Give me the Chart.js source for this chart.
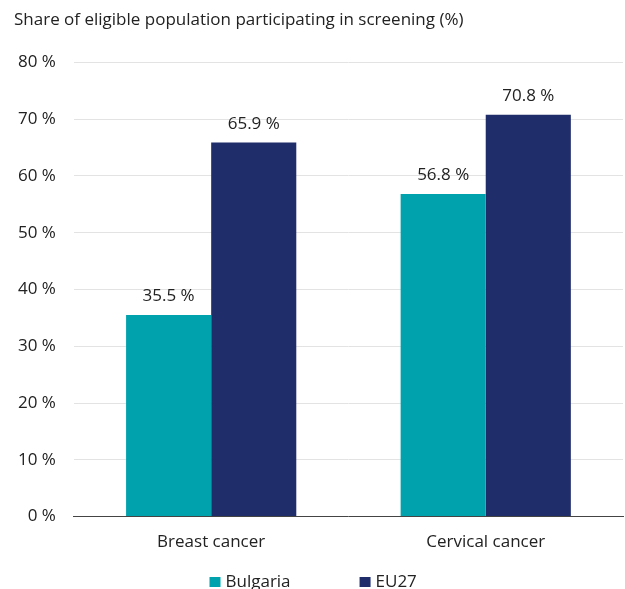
<!DOCTYPE html>
<html>
<head>
<meta charset="utf-8">
<script src="https://cdn.jsdelivr.net/npm/chart.js@4"></script>
<style>
  html, body { margin: 0; padding: 0; background: #fff; }
  #wrap { width: 625px; height: 589px; }
</style>
</head>
<body>
<div id="wrap"><canvas id="chart"></canvas></div>
<script>
const categories = ['Breast cancer', 'Cervical cancer'];
const bulgaria = [35.5, 56.8];
const eu27 = [65.9, 70.8];

const TEAL = 'rgb(0, 163, 173)';
const NAVY = 'rgb(31, 45, 106)';
const FONT = "'Open Sans', sans-serif";
const TEXT = '#222';

// writes "xx.x %" above every bar
const barValues = {
  id: 'barValues',
  afterDatasetsDraw(chart) {
    const ctx = chart.ctx;
    ctx.save();
    ctx.font = `17px ${FONT}`;
    ctx.fillStyle = TEXT;
    ctx.textAlign = 'center';
    ctx.textBaseline = 'bottom';
    chart.data.datasets.forEach((ds, i) => {
      chart.getDatasetMeta(i).data.forEach((bar, j) => {
        ctx.fillText(ds.data[j].toFixed(1) + ' %', bar.x, bar.y - 10);
      });
    });
    ctx.restore();
  }
};

// legend row along the bottom edge, drawn by hand so it can sit close to the axis
const bottomLegend = {
  id: 'bottomLegend',
  afterDraw(chart) {
    const ctx = chart.ctx;
    const baseline = chart.height - 2;
    let x = chart.width / 2 - 103;
    ctx.save();
    ctx.font = `17px ${FONT}`;
    ctx.textBaseline = 'alphabetic';
    ctx.textAlign = 'left';
    chart.data.datasets.forEach(ds => {
      ctx.fillStyle = ds.backgroundColor;
      ctx.fillRect(x, baseline - 10, 11, 10);
      ctx.fillStyle = TEXT;
      ctx.fillText(ds.label, x + 16, baseline);
      x += 16 + ctx.measureText(ds.label).width + 69;
    });
    ctx.restore();
  }
};

new Chart(document.getElementById('chart'), {
  type: 'bar',
  data: {
    labels: categories,
    datasets: [
      { label: 'Bulgaria', data: bulgaria, backgroundColor: TEAL },
      { label: 'EU27', data: eu27, backgroundColor: NAVY }
    ]
  },
  options: {
    responsive: true,
    maintainAspectRatio: false,
    animation: false,
    layout: { padding: { left: 14, right: 2, top: 4, bottom: 30 } },
    datasets: { bar: { categoryPercentage: 0.62, barPercentage: 1 } },
    scales: {
      x: {
        grid: { display: false },
        border: { color: '#444', width: 1 },
        ticks: { color: TEXT, font: { family: FONT, size: 17 }, padding: 7 }
      },
      y: {
        min: 0,
        max: 80,
        grid: { color: '#e3e3e3', drawTicks: false },
        border: { display: false },
        // the left padding is only for the title; let the tick labels use it too
        afterFit: scale => { scale.width -= 14; },
        ticks: {
          stepSize: 10,
          padding: 18,
          color: TEXT,
          font: { family: FONT, size: 17 },
          callback: v => v + ' %'
        }
      }
    },
    plugins: {
      title: {
        display: true,
        text: 'Share of eligible population participating in screening (%)',
        align: 'start',
        color: TEXT,
        font: { family: FONT, size: 17, weight: 'normal' },
        padding: { top: 6, bottom: 32 }
      },
      legend: { display: false },
      tooltip: { enabled: false }
    }
  },
  plugins: [barValues, bottomLegend]
});
</script>
</body>
</html>
